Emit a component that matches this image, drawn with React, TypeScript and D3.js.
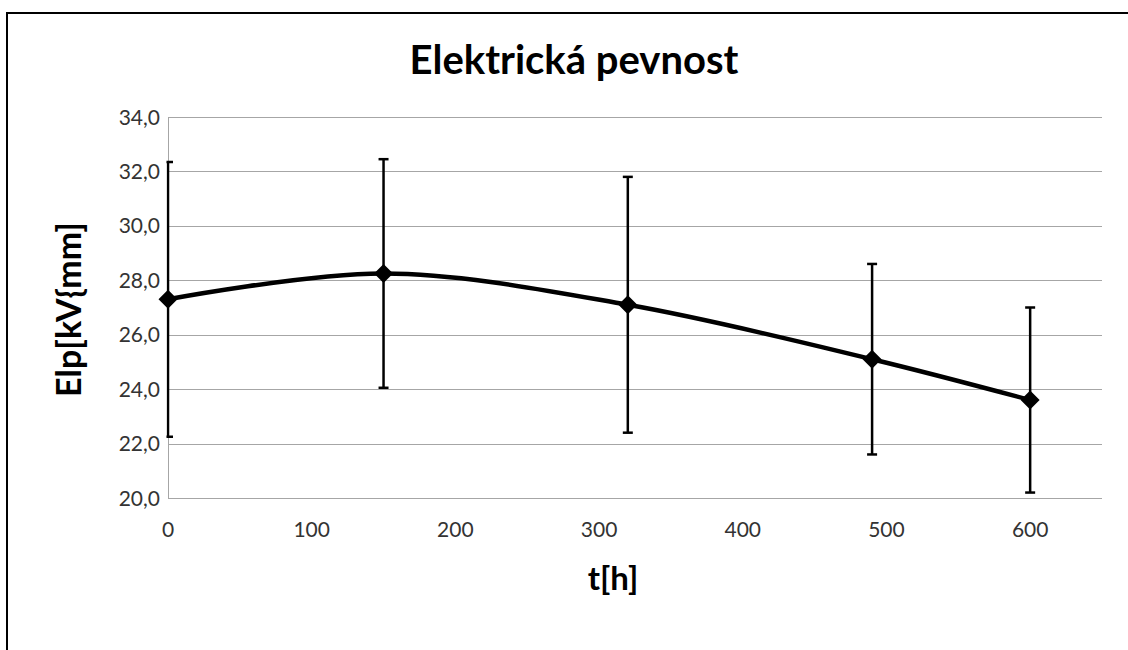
import React from 'react';
import * as d3 from 'd3';

const hours = [0, 150, 320, 490, 600];
const strength = [27.3, 28.25, 27.1, 25.1, 23.6];
const deviation = [5.05, 4.2, 4.7, 3.5, 3.4];
const yTicks = [20, 22, 24, 26, 28, 30, 32, 34];
const xTicks = [0, 100, 200, 300, 400, 500, 600];

const title = 'Elektrická pevnost';
const xLabel = 't[h]';
const yLabel = 'Elp[kV{mm]';

const App = () => {
  const width = 1128;
  const height = 650;
  const plot = { left: 168, right: 1102, top: 117, bottom: 498 };
  const font = 'Lato, Carlito, Calibri, sans-serif';

  const x = d3.scaleLinear().domain([0, 650]).range([plot.left, plot.right]);
  const y = d3.scaleLinear().domain([20, 34]).range([plot.bottom, plot.top]);

  const points = hours.map((h, i) => ({ h, v: strength[i], e: deviation[i] }));
  const line = d3
    .line<{ h: number; v: number }>()
    .x((d) => x(d.h))
    .y((d) => y(d.v))
    .curve(d3.curveCatmullRom.alpha(0.5));

  const fmt = (v: number) => v.toFixed(1).replace('.', ',');
  const diamond = 9.5;

  return (
    <svg
      width={width}
      height={height}
      style={{ position: 'absolute', left: 0, top: 0, background: '#fff' }}
    >
      <defs>
        <clipPath id="plotClip">
          <rect x={plot.left - 1.5} y={0} width={plot.right - plot.left + 1.5} height={height} />
        </clipPath>
      </defs>
      <rect x={7} y={13} width={1300} height={800} fill="#fff" stroke="#000" strokeWidth={2} />

      <text
        x={574}
        y={74}
        textAnchor="middle"
        fontFamily={font}
        fontWeight="bold"
        fontSize={40}
        fill="#000"
      >
        {title}
      </text>

      {/* gridlines */}
      {yTicks.map((t) => (
        <line
          key={t}
          x1={plot.left}
          x2={plot.right}
          y1={Math.round(y(t)) + 0.5}
          y2={Math.round(y(t)) + 0.5}
          stroke="#a6a6a6"
          strokeWidth={1}
        />
      ))}
      <line
        x1={plot.left + 0.5}
        x2={plot.left + 0.5}
        y1={plot.top}
        y2={plot.bottom}
        stroke="#a6a6a6"
        strokeWidth={1}
      />

      {yTicks.map((t) => (
        <text
          key={t}
          x={160}
          y={y(t)}
          dy="0.36em"
          textAnchor="end"
          fontFamily={font}
          fontSize={21}
          fill="#333"
        >
          {fmt(t)}
        </text>
      ))}
      {xTicks.map((t) => (
        <text
          key={t}
          x={x(t)}
          y={537}
          textAnchor="middle"
          fontFamily={font}
          fontSize={21}
          fill="#333"
        >
          {t}
        </text>
      ))}

      <text
        x={613}
        y={590}
        textAnchor="middle"
        fontFamily={font}
        fontWeight="bold"
        fontSize={33}
        fill="#000"
      >
        {xLabel}
      </text>
      <text
        transform={`translate(81, ${(plot.top + plot.bottom) / 2 + 2}) rotate(-90)`}
        textAnchor="middle"
        fontFamily={font}
        fontWeight="bold"
        fontSize={34}
        fill="#000"
      >
        {yLabel}
      </text>

      <g clipPath="url(#plotClip)">
        {points.map((d, i) => (
          <g key={i} stroke="#000" strokeWidth={2.5}>
            <line x1={x(d.h)} x2={x(d.h)} y1={y(d.v + d.e)} y2={y(d.v - d.e)} />
            <line x1={x(d.h) - 5} x2={x(d.h) + 5} y1={y(d.v + d.e)} y2={y(d.v + d.e)} />
            <line x1={x(d.h) - 5} x2={x(d.h) + 5} y1={y(d.v - d.e)} y2={y(d.v - d.e)} />
          </g>
        ))}
      </g>

      <path d={line(points) || ''} fill="none" stroke="#000" strokeWidth={4.5} strokeLinejoin="round" />

      {points.map((d, i) => {
        const cx = x(d.h);
        const cy = y(d.v);
        return (
          <path
            key={i}
            d={`M${cx},${cy - diamond}L${cx + diamond},${cy}L${cx},${cy + diamond}L${cx - diamond},${cy}Z`}
            fill="#000"
          />
        );
      })}
    </svg>
  );
};

export default App;
